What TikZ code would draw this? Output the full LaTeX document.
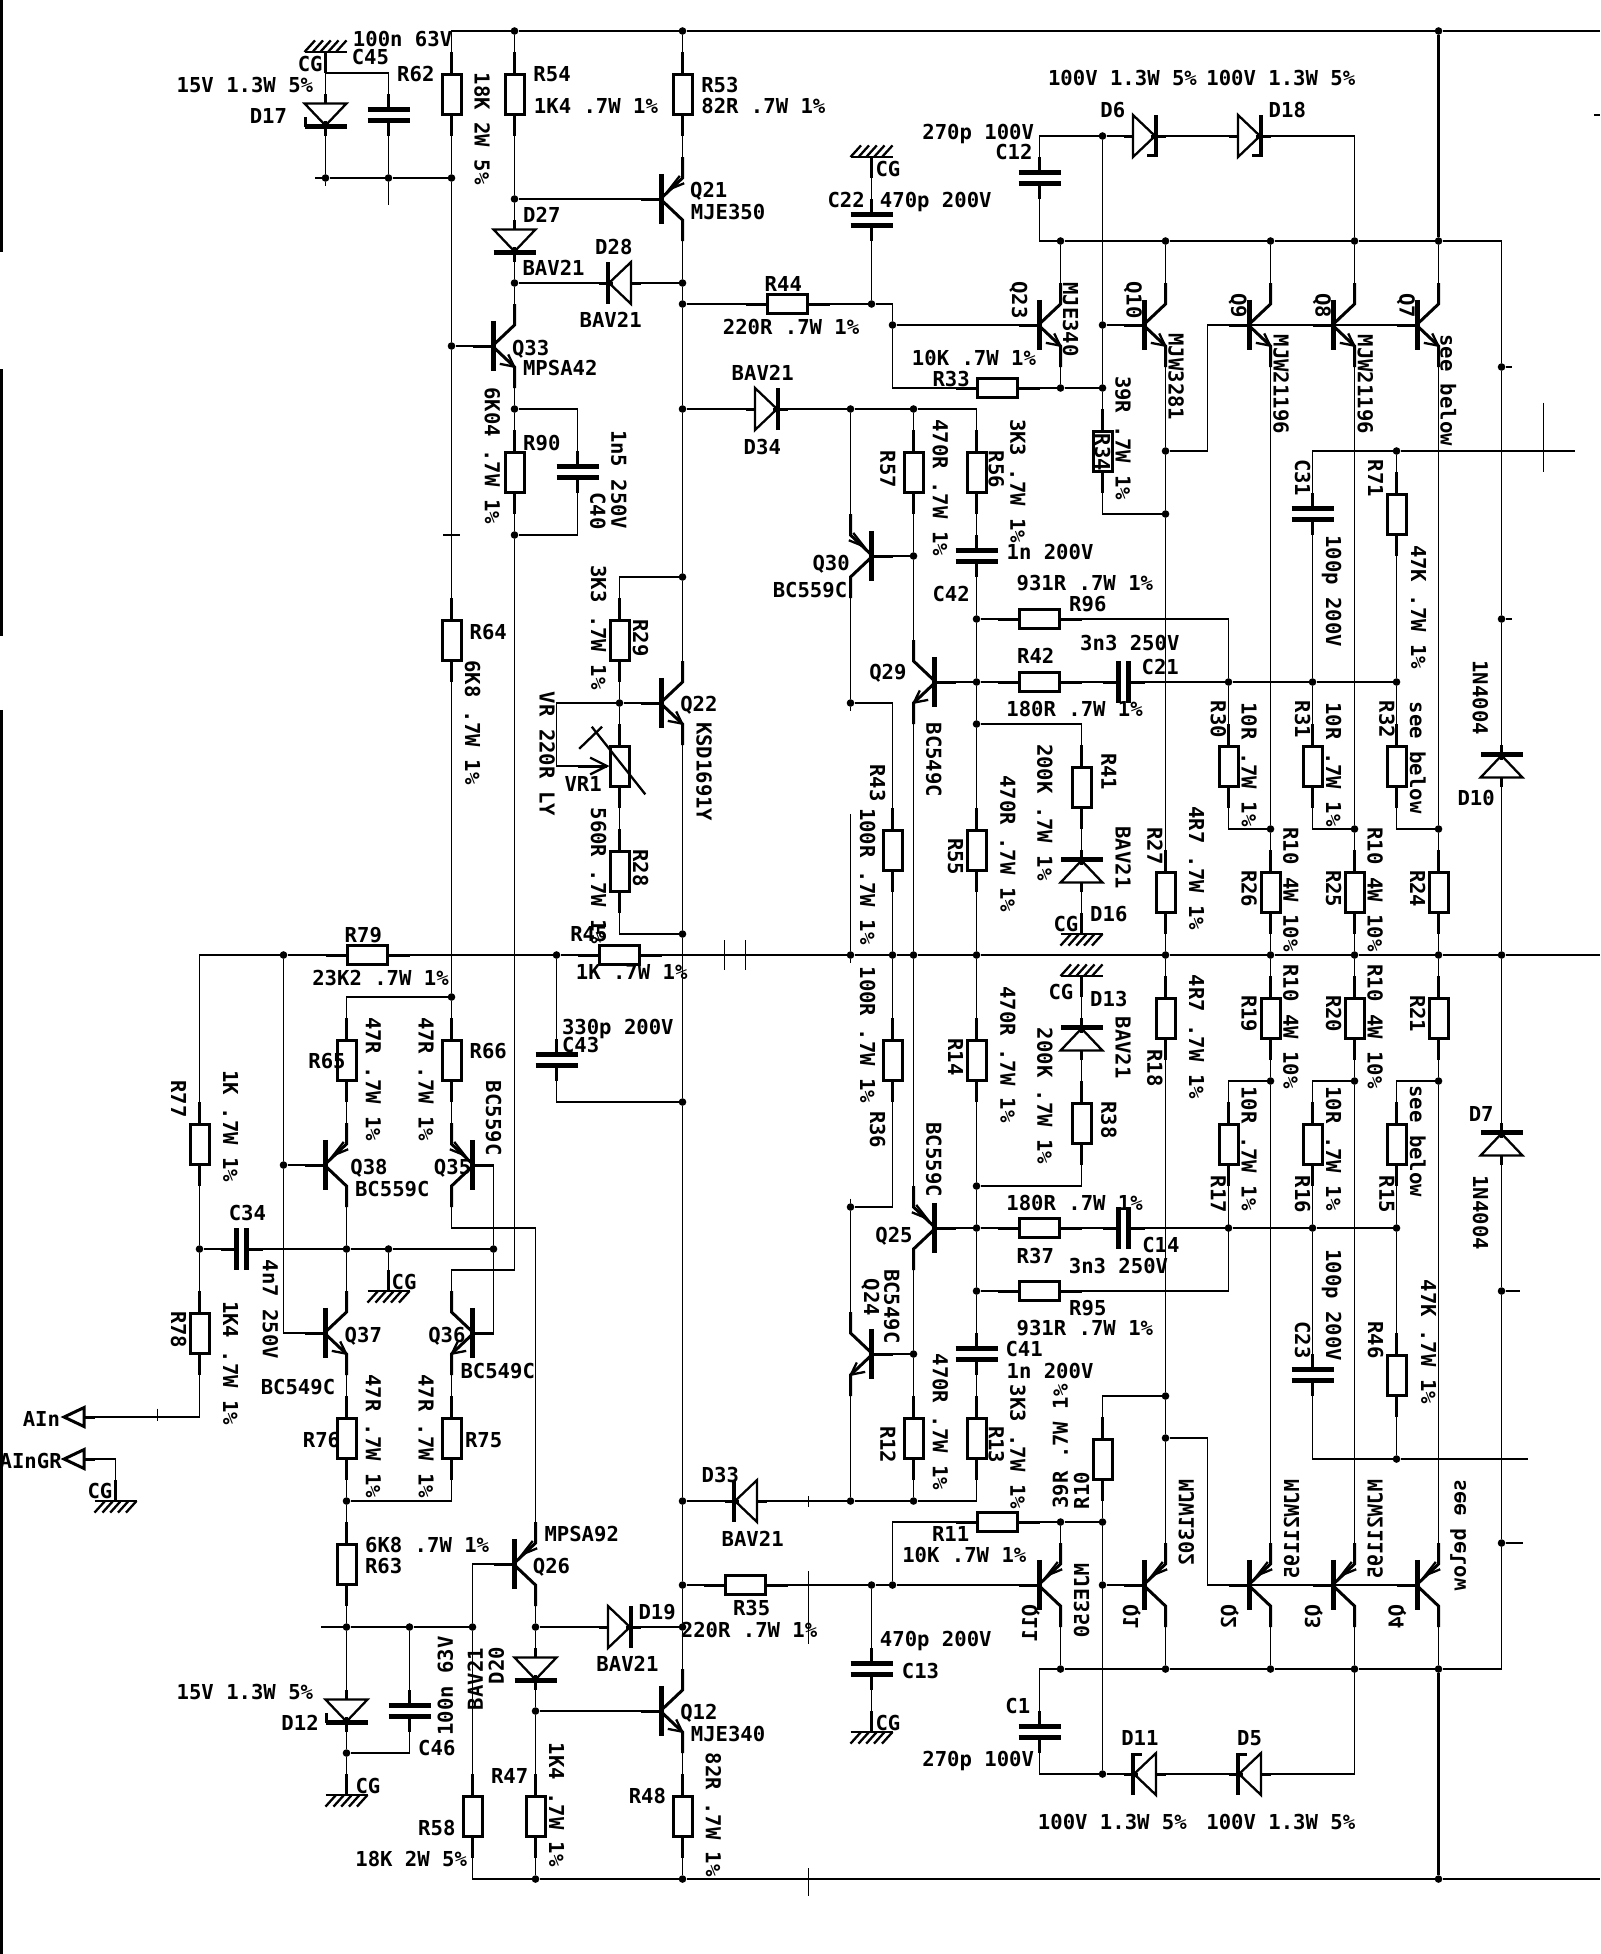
\documentclass[tikz,border=0pt]{standalone}
\usepackage{fontspec}
\newfontfamily\schfont[BoldFont={DejaVu Sans Mono Bold}]{DejaVu Sans Mono}
\newcounter{lblcount}
\tikzset{
  wire/.style={line width=1.2pt},
  rail/.style={line width=3pt},
  pin/.style={line width=3pt},
  bar/.style={line width=4.8pt},
  head/.style={line width=2.3pt},
  dot/.style={circle,fill=black,inner sep=0pt,minimum size=7.6pt},
  resbox/.style={rectangle,draw=black,line width=3pt,inner sep=0pt},
  pinbox/.style={rectangle,inner sep=0pt,outer sep=0pt,minimum width=42pt,minimum height=42pt},
  lbl/.style={font=\schfont\bfseries\fontsize{20.6}{21}\selectfont,inner sep=0pt,text height=15pt,text depth=0pt}
}
% resistors, the node is the body
\newcommand{\resV}[3]{%
  \node[resbox,minimum width=19pt,minimum height=40pt] (#1) at (#2,#3) {};
  \draw[pin] (#2,#3-2) -- (#2,#3-1) (#2,#3+1) -- (#2,#3+2);
  \coordinate (#1t) at (#2,#3-2);
  \coordinate (#1u) at (#2,#3+2);
}
\newcommand{\resH}[3]{%
  \node[resbox,minimum width=40pt,minimum height=19pt] (#1) at (#2,#3) {};
  \draw[pin] (#2-2,#3) -- (#2-1,#3) (#2+1,#3) -- (#2+2,#3);
  \coordinate (#1t) at (#2-2,#3);
  \coordinate (#1u) at (#2+2,#3);
}
% capacitors
\newcommand{\capV}[3]{%
  \node[pinbox] (#1) at (#2,#3) {};
  \draw[bar] (#2-1,#3-.25) -- (#2+1,#3-.25) (#2-1,#3+.25) -- (#2+1,#3+.25);
  \draw[pin] (#2,#3-1) -- (#2,#3-.25) (#2,#3+.25) -- (#2,#3+1);
}
\newcommand{\capH}[3]{%
  \node[pinbox] (#1) at (#2,#3) {};
  \draw[bar] (#2-.25,#3-1) -- (#2-.25,#3+1) (#2+.25,#3-1) -- (#2+.25,#3+1);
  \draw[pin] (#2-1,#3) -- (#2-.25,#3) (#2+.25,#3) -- (#2+1,#3);
}
% diodes: rotation 0 points down, 90 right, 180 up, 270 left
\newcommand{\diode}[4]{%
  \node[pinbox,minimum width=1pt,rotate=#4] (#1) at (#2,#3) {};
  \begin{scope}[shift={(#2,#3)},x=21pt,y=21pt,rotate=#4]
    \draw[head] (-1,.55) -- (1,.55) -- (0,-.5) -- cycle;
    \draw[bar] (-1,-.55) -- (1,-.55);
    \draw[pin] (0,1) -- (0,.55) (0,-.3) -- (0,-1);
  \end{scope}
}
\newcommand{\zener}[4]{%
  \diode{#1}{#2}{#3}{#4}
  \begin{scope}[shift={(#2,#3)},x=21pt,y=21pt,rotate=#4]
    \draw[pin] (-.95,-.55) -- (-.95,-.1);
  \end{scope}
}
% transistors: wire x, base y, 1 base left or -1 base right, 0 arrow in on top or 1 arrow out below
\newcommand{\bjt}[5]{%
  \begin{scope}[shift={(#2,#3)},xscale=#4]
    \coordinate (#1-b) at (-2,0);
    \coordinate (#1-t) at (0,-2);
    \coordinate (#1-u) at (0,2);
    \draw[pin] (-2,0) -- (-1,0);
    \draw[bar] (-1,-1.2) -- (-1,1.2);
    \draw[pin] (0,-2) -- (0,-1) -- (-.95,-.1);
    \draw[pin] (-.95,.1) -- (0,1) -- (0,2);
    \ifnum#5=0
      \draw[head] (.08,-.75) -- (-.63,-.46) -- (-.13,-1.1);
    \else
      \draw[head] (-.7,.85) -- (-.02,.98) -- (-.3,.4);
    \fi
  \end{scope}
}
% ground, the coordinate is the free end of its pin
\newcommand{\gnd}[4]{%
  \coordinate (#1) at (#2,#3+#4);
  \begin{scope}[shift={(#2,#3)},x=21pt,y=21pt,rotate=90+90*#4]
    \draw[pin] (0,0) -- (0,1);
    \draw[head] (-1,0) -- (1,0);
    \foreach \t in {-.5,-.12,.25,.62,1} {
      \draw[head] (\t,0) -- ++(-.5,-.55);
    }
  \end{scope}
}
\newcommand{\inport}[2]{%
  \coordinate (#1) at (-5,#2);
  \draw[pin] (-6.45,#2) -- (-5.5,#2-.45) -- (-5.5,#2+.45) -- cycle;
  \draw[pin] (-5.5,#2) -- (-5,#2);
}
% labels
\newcommand{\lab}[3]{\stepcounter{lblcount}\node[lbl] (lb\arabic{lblcount}) at (#1,#2) {#3};}
\newcommand{\labd}[3]{\stepcounter{lblcount}\node[lbl,rotate=-90] (lb\arabic{lblcount}) at (#1,#2) {#3};}
\newcommand{\labu}[3]{\stepcounter{lblcount}\node[lbl,rotate=90] (lb\arabic{lblcount}) at (#1,#2) {#3};}
\newcommand{\labm}[3]{\stepcounter{lblcount}\node[lbl,rotate=90,xscale=-1] (lb\arabic{lblcount}) at (#1,#2) {#3};}
\newcommand{\pw}{.7W 1\%}
\begin{document}
\begin{tikzpicture}[x=21pt,y=-21pt]
    \useasboundingbox (-9.5,-1.476) rectangle (66.69,91.57);

    % Free ends and corners
    \coordinate (railT) at (66.69,0);
    \coordinate (railM) at (66.69,44);
    \coordinate (railB) at (66.69,88);
    \coordinate (cC62) at (62,10);
    \coordinate (cD62) at (62,78);
    \coordinate (cB36) at (15,59);
    \coordinate (cQ26) at (16,57);
    \coordinate (cQ9) at (48,20);
    \coordinate (cQ2) at (48,67);
    \coordinate (cVR) at (17,32);
    \coordinate (cWip) at (19.4,35);
    \coordinate (fb20) at (65.5,20);
    \coordinate (fb68) at (63.27,68);
    \coordinate (end76) at (5.8,76);
    \coordinate (end7) at (5.5,7);

    % Junctions
    \foreach \jx/\jy in {15/0,23/0,59/0,43/5,6/7,9/7,12/7,15/8,41/10,46/10,51/10,55/10,59/10,
        15/12,23/12,23/13,32/13,33/14,43/14,12/15,41/17,43/17,15/18,23/18,31/18,34/18,
        46/20,57/20,46/23,15/24,34/25,23/26,37/28,62/16,62/28,37/31,49/31,53/31,57/31,
        20/32,31/32,37/33,51/38,55/38,59/38,23/43,4/44,17/44,31/44,33/44,34/44,37/44,46/44,
        51/44,55/44,59/44,62/44,12/46,51/50,55/50,59/50,23/51,4/54,37/55,31/56,37/57,49/57,
        53/57,57/57,0/58,7/58,9/58,14/58,37/60,62/60,34/63,46/65,46/67,57/68,7/70,23/70,
        31/70,34/70,41/71,43/71,62/72,23/74,32/74,33/74,43/74,7/76,10/76,13/76,16/76,23/76,
        41/78,46/78,51/78,55/78,59/78,16/80,7/82,43/83,16/88,23/88,59/88} {
        \node[dot] (j\jx-\jy) at (\jx,\jy) {};
    }

    % Resistors
    \foreach \rn/\rx/\ry in {R62/12/3,R54/15/3,R53/23/3,R90/15/21,R64/12/29,R29/20/29,R28/20/40,
        R34/43/20,R71/57/23,R57/34/21,R56/37/21,R30/49/35,R31/53/35,R32/57/35,R41/42/36,
        R43/33/39,R55/37/39,R27/46/41,R26/51/41,R25/55/41,R24/59/41,R36/33/49,R14/37/49,
        R18/46/47,R19/51/47,R20/55/47,R21/59/47,R38/42/52,R17/49/53,R16/53/53,R15/57/53,
        R46/57/64,R12/34/67,R13/37/67,R10/43/68,R65/7/49,R66/12/49,R77/0/53,R78/0/62,
        R76/7/67,R75/12/67,R63/7/73,R58/13/85,R47/16/85,R48/23/85,VR1/20/35} {
        \resV{\rn}{\rx}{\ry}
    }
    \foreach \rn/\rx/\ry in {R44/28/13,R33/38/17,R96/40/28,R42/40/31,R79/8/44,R45/20/44,
        R37/40/57,R95/40/60,R11/38/71,R35/26/74} {
        \resH{\rn}{\rx}{\ry}
    }

    % Variable resistor marks
    \draw[head] (21.23,36.35) -- (18.68,33.13);
    \draw[head] (18.08,34.18) -- (19.17,33.13);
    \draw[pin] (18,35) -- (cWip);
    \draw[head] (18.6,34.6) -- (cWip) -- (18.6,35.4);

    % Capacitors
    \foreach \cn/\cx/\cy in {C45/9/4,C40/18/21,C22/32/9,C12/40/7,C31/53/23,C42/37/25,C43/17/49,
        C41/37/63,C23/53/64,C46/10/80,C13/32/78,C1/40/81} {
        \capV{\cn}{\cx}{\cy}
    }
    \foreach \cn/\cx/\cy in {C21/44/31,C14/44/57,C34/2/58} {
        \capH{\cn}{\cx}{\cy}
    }

    % Diodes
    \diode{D27}{15}{10}{0}
    \diode{D20}{16}{78}{0}
    \diode{D28}{20}{12}{270}
    \diode{D33}{26}{70}{270}
    \diode{D34}{27}{18}{90}
    \diode{D19}{20}{76}{90}
    \diode{D16}{42}{40}{180}
    \diode{D13}{42}{48}{180}
    \diode{D10}{62}{35}{180}
    \diode{D7}{62}{53}{180}
    \zener{D17}{6}{4}{0}
    \zener{D12}{7}{80}{0}
    \zener{D6}{45}{5}{90}
    \zener{D18}{50}{5}{90}
    \zener{D11}{45}{83}{270}
    \zener{D5}{50}{83}{270}

    % Transistors
    \foreach \qn/\qx/\qy/\qs/\qa in {Q21/23/8/1/0,Q33/15/15/1/1,Q22/23/32/1/1,Q12/23/80/1/1,
        Q26/16/73/1/0,Q38/7/54/1/0,Q35/12/54/-1/0,Q37/7/62/1/1,Q36/12/62/-1/1,Q23/41/14/1/1,
        Q10/46/14/1/1,Q9/51/14/1/1,Q8/55/14/1/1,Q7/59/14/1/1,Q30/31/25/-1/0,Q29/34/31/-1/1,
        Q25/34/57/-1/0,Q24/31/63/-1/1,Q11/41/74/1/0,Q1/46/74/1/0,Q2/51/74/1/0,Q3/55/74/1/0,
        Q4/59/74/1/0} {
        \bjt{\qn}{\qx}{\qy}{\qs}{\qa}
    }

    % Grounds
    \gnd{gD17}{6}{1}{1}
    \gnd{gC22}{32}{6}{1}
    \gnd{gD16}{42}{43}{-1}
    \gnd{gD13}{42}{45}{1}
    \gnd{gC34}{9}{60}{-1}
    \gnd{gD12}{7}{84}{-1}
    \gnd{gC13}{32}{81}{-1}
    \gnd{gIn}{-4}{70}{-1}

    % Inputs
    \inport{aIn}{66}
    \inport{aGr}{68}

    % Supply rails
    \draw[wire] (R62t) |- (j15-0) -- (j23-0) -- (j59-0) -- (railT);
    \draw[wire] (R58u) |- (j16-88) -- (j23-88) -- (j59-88) -- (railB);
    \draw[rail] (j59-0) -- (j59-10);
    \draw[rail] (j59-78) -- (j59-88);
    \draw[wire] (j15-0) -- (R54t);
    \draw[wire] (j23-0) -- (R53t);

    % Upper left part
    \draw[wire] (R62u) -- (j12-7) -- (j12-15) -- (R64t);
    \draw[wire] (R64u) -- (j12-46) -- (R66t);
    \draw[wire] (gD17) -- (D17.north);
    \draw[wire] (gD17) -| (C45.north);
    \draw[wire] (D17.south) -- (j6-7);
    \draw[wire] (C45.south) -- (j9-7);
    \draw[wire] (end7) -- (j6-7) -- (j9-7) -- (j12-7);
    \draw[wire] (R54u) -- (j15-8) -- (D27.north);
    \draw[wire] (j15-8) -- (Q21-b);
    \draw[wire] (D27.south) -- (j15-12) -- (Q33-t);
    \draw[wire] (j15-12) -- (D28.south);
    \draw[wire] (D28.north) -- (j23-12);
    \draw[wire] (R53u) -- (Q21-t);
    \draw[wire] (Q21-u) -- (j23-12) -- (j23-13) -- (j23-18) -- (j23-26) -- (Q22-t);
    \draw[wire] (Q22-u) -- (j23-43) -- (j23-51) -- (j23-70) -- (j23-74) -- (j23-76) -- (Q12-t);
    \draw[wire] (Q12-u) -- (R48t);
    \draw[wire] (R48u) -- (j23-88);
    \draw[wire] (j12-15) -- (Q33-b);
    \draw[wire] (Q33-u) -- (j15-18) -- (R90t);
    \draw[wire] (R90u) -- (j15-24);
    \draw[wire] (j15-18) -| (C40.north);
    \draw[wire] (C40.south) |- (j15-24);
    \draw[wire] (j15-24) -- (cB36) -| (Q36-t);

    % Driver stage, top
    \draw[wire] (j23-13) -- (R44t);
    \draw[wire] (R44u) -- (j32-13) -| (j33-14);
    \draw[wire] (gC22) -- (C22.north);
    \draw[wire] (C22.south) -- (j32-13);
    \draw[wire] (j33-14) -- (Q23-b);
    \draw[wire] (j33-14) |- (R33t);
    \draw[wire] (R33u) -- (j41-17) -- (j43-17);
    \draw[wire] (j41-10) -- (Q23-t);
    \draw[wire] (Q23-u) -- (j41-17);
    \draw[wire] (j23-18) -- (D34.north);
    \draw[wire] (D34.south) -- (j31-18) -- (j34-18) -| (R56t);
    \draw[wire] (C12.north) |- (j43-5);
    \draw[wire] (j43-5) -- (D6.north);
    \draw[wire] (D6.south) -- (D18.north);
    \draw[wire] (D18.south) -| (j55-10);
    \draw[wire] (C12.south) |- (j41-10);
    \draw[wire] (j41-10) -- (j46-10) -- (j51-10) -- (j55-10) -- (j59-10) -- (cC62) -- (j62-16) -- (j62-28) -- (D10.south);
    \draw[wire] (D10.north) -- (j62-44) -- (D7.south);
    \draw[wire] (D7.north) -- (j62-60) -- (j62-72) -- (cD62) -- (j59-78) -- (j55-78) -- (j51-78) -- (j46-78) -- (j41-78) -| (C1.north);
    \draw[wire] (j43-5) -- (j43-14) -- (j43-17) -- (R34t);
    \draw[wire] (R34u) |- (j46-23);
    \draw[wire] (j43-14) -- (Q10-b);

    % Output columns
    \draw[wire] (j46-10) -- (Q10-t);
    \draw[wire] (Q10-u) -- (j46-20) -- (j46-23) -- (R27t);
    \draw[wire] (R27u) -- (j46-44) -- (R18t);
    \draw[wire] (R18u) -- (j46-65) -- (j46-67) -- (Q1-t);
    \draw[wire] (Q1-u) -- (j46-78);
    \draw[wire] (j46-20) -- (cQ9) |- (Q9-b);
    \draw[wire] (Q9-b) -- (Q7-b);
    \draw[wire] (j51-10) -- (Q9-t);
    \draw[wire] (Q9-u) -- (j51-38) -- (R26t);
    \draw[wire] (R26u) -- (j51-44) -- (R19t);
    \draw[wire] (R19u) -- (j51-50) -- (Q2-t);
    \draw[wire] (Q2-u) -- (j51-78);
    \draw[wire] (j55-10) -- (Q8-t);
    \draw[wire] (Q8-u) -- (j55-38) -- (R25t);
    \draw[wire] (R25u) -- (j55-44) -- (R20t);
    \draw[wire] (R20u) -- (j55-50) -- (Q3-t);
    \draw[wire] (Q3-u) -- (j55-78);
    \draw[wire] (j59-10) -- (Q7-t);
    \draw[wire] (Q7-u) -- (j59-38) -- (R24t);
    \draw[wire] (R24u) -- (j59-44) -- (R21t);
    \draw[wire] (R21u) -- (j59-50) -- (Q4-t);
    \draw[wire] (Q4-u) -- (j59-78);

    % Main horizontal line
    \draw[wire] (R77t) |- (j4-44);
    \draw[wire] (j4-44) -- (R79t);
    \draw[wire] (R79u) -- (j17-44) -- (R45t);
    \draw[wire] (R45u) -- (j31-44) -- (j33-44) -- (j34-44) -- (j37-44) -- (j46-44) -- (j51-44) -- (j55-44) -- (j59-44) -- (j62-44) -- (railM);

    % Feedback network, top
    \draw[wire] (C31.north) |- (j57-20);
    \draw[wire] (j57-20) -- (fb20);
    \draw[wire] (R71t) -- (j57-20);
    \draw[wire] (C31.south) -- (j53-31);
    \draw[wire] (R71u) -- (j57-31);
    \draw[wire] (Q29-b) -- (j37-31) -- (R42t);
    \draw[wire] (R42u) -- (C21.west);
    \draw[wire] (C21.east) -- (j49-31) -- (j53-31) -- (j57-31);
    \draw[wire] (j37-28) -- (R96t);
    \draw[wire] (R96u) -| (j49-31);
    \draw[wire] (j49-31) -- (R30t);
    \draw[wire] (R30u) |- (j51-38);
    \draw[wire] (j53-31) -- (R31t);
    \draw[wire] (R31u) |- (j55-38);
    \draw[wire] (j57-31) -- (R32t);
    \draw[wire] (R32u) |- (j59-38);
    \draw[wire] (R56u) -- (C42.north);
    \draw[wire] (C42.south) -- (j37-28) -- (j37-31) -- (j37-33) -- (R55t);
    \draw[wire] (R55u) -- (j37-44) -- (R14t);
    \draw[wire] (R14u) -- (j37-55) -- (j37-57) -- (j37-60) -- (C41.north);
    \draw[wire] (C41.south) -- (R13t);
    \draw[wire] (R13u) |- (j34-70);
    \draw[wire] (j37-33) -| (R41t);
    \draw[wire] (R41u) -- (D16.south);
    \draw[wire] (D16.north) -- (gD16);
    \draw[wire] (gD13) -- (D13.south);
    \draw[wire] (D13.north) -- (R38t);
    \draw[wire] (R38u) |- (j37-55);

    % Voltage amplifier columns
    \draw[wire] (j31-18) -- (Q30-t);
    \draw[wire] (Q30-u) -- (j31-32) -- (31,32.4);
    \draw[wire] (j31-32) -| (R43t);
    \draw[wire] (R43u) -- (j33-44);
    \draw[wire] (j33-44) -- (R36t);
    \draw[wire] (R36u) |- (j31-56);
    \draw[wire] (31,37.3) -- (j31-44) -- (31,44.4);
    \draw[wire] (31,55.6) -- (j31-56) -- (Q24-t);
    \draw[wire] (Q24-u) -- (j31-70);
    \draw[wire] (Q30-b) -- (j34-25);
    \draw[wire] (j34-18) -- (R57t);
    \draw[wire] (R57u) -- (j34-25) -- (Q29-t);
    \draw[wire] (Q29-u) -- (j34-44) -- (Q25-t);
    \draw[wire] (Q25-u) -- (j34-63) -- (R12t);
    \draw[wire] (R12u) -- (j34-70);
    \draw[wire] (Q24-b) -- (j34-63);

    % Feedback network, bottom
    \draw[wire] (Q25-b) -- (j37-57) -- (R37t);
    \draw[wire] (R37u) -- (C14.west);
    \draw[wire] (C14.east) -- (j49-57) -- (j53-57) -- (j57-57);
    \draw[wire] (j37-60) -- (R95t);
    \draw[wire] (R95u) -| (R17u);
    \draw[wire] (R17t) |- (j51-50);
    \draw[wire] (R16t) |- (j55-50);
    \draw[wire] (R15t) |- (j59-50);
    \draw[wire] (R16u) -- (j53-57) -- (C23.north);
    \draw[wire] (R15u) -- (j57-57) -- (R46t);
    \draw[wire] (C23.south) |- (j57-68);
    \draw[wire] (R46u) -- (j57-68) -- (fb68);

    % Driver stage, bottom
    \draw[wire] (j23-70) -- (D33.south);
    \draw[wire] (D33.north) -- (j31-70) -- (j34-70);
    \draw[wire] (j23-74) -- (R35t);
    \draw[wire] (R35u) -- (j32-74) -- (j33-74) -- (Q11-b);
    \draw[wire] (j33-74) |- (R11t);
    \draw[wire] (R11u) -- (j41-71) -- (j43-71);
    \draw[wire] (j41-71) -- (Q11-t);
    \draw[wire] (Q11-u) -- (j41-78);
    \draw[wire] (j32-74) -- (C13.north);
    \draw[wire] (C13.south) -- (gC13);
    \draw[wire] (j46-65) -| (R10t);
    \draw[wire] (R10u) -- (j43-71) -- (j43-74) -- (j43-83);
    \draw[wire] (j43-74) -- (Q1-b);
    \draw[wire] (j46-67) -- (cQ2) |- (Q2-b);
    \draw[wire] (Q2-b) -- (Q4-b);
    \draw[wire] (C1.south) |- (j43-83);
    \draw[wire] (j43-83) -- (D11.south);
    \draw[wire] (D11.north) -- (D5.south);
    \draw[wire] (D5.north) -| (j55-78);

    % Bias string
    \draw[wire] (R29t) |- (j23-26);
    \draw[wire] (R29u) -- (j20-32) -- (VR1t);
    \draw[wire] (j20-32) -- (Q22-b);
    \draw[wire] (VR1u) -- (R28t);
    \draw[wire] (R28u) |- (j23-43);
    \draw[wire] (j20-32) -- (cVR) |- (cWip);
    \draw[wire] (j17-44) -- (C43.north);
    \draw[wire] (C43.south) |- (j23-51);

    % Input stage
    \draw[wire] (R77u) -- (j0-58) -- (R78t);
    \draw[wire] (R78u) |- (aIn);
    \draw[wire] (aGr) -| (gIn);
    \draw[wire] (j0-58) -- (C34.west);
    \draw[wire] (C34.east) -- (j7-58) -- (j9-58) -- (j14-58);
    \draw[wire] (j9-58) -- (gC34);
    \draw[wire] (j4-44) -- (j4-54) -- (Q38-b);
    \draw[wire] (j4-54) |- (Q37-b);
    \draw[wire] (R65t) |- (j12-46);
    \draw[wire] (R65u) -- (Q38-t);
    \draw[wire] (Q38-u) -- (j7-58) -- (Q37-t);
    \draw[wire] (Q37-u) -- (R76t);
    \draw[wire] (R76u) -- (j7-70) -- (R63t);
    \draw[wire] (R63u) -- (j7-76) -- (D12.north);
    \draw[wire] (D12.south) -- (j7-82) -- (gD12);
    \draw[wire] (R66u) -- (Q35-t);
    \draw[wire] (Q35-u) |- (cQ26) -- (Q26-t);
    \draw[wire] (Q35-b) -- (j14-58) -- (Q36-b);
    \draw[wire] (Q36-u) -- (R75t);
    \draw[wire] (R75u) |- (j7-70);
    \draw[wire] (Q26-u) -- (j16-76) -- (D20.north);
    \draw[wire] (D20.south) -- (j16-80) -- (R47t);
    \draw[wire] (j16-80) -- (Q12-b);
    \draw[wire] (j16-76) -- (D19.north);
    \draw[wire] (D19.south) -- (j23-76);
    \draw[wire] (Q26-b) -| (j13-76);
    \draw[wire] (j13-76) -- (R58t);
    \draw[wire] (end76) -- (j7-76) -- (j10-76) -- (j13-76);
    \draw[wire] (j10-76) -- (C46.north);
    \draw[wire] (C46.south) |- (j7-82);
    \draw[wire] (R47u) -- (j16-88);

    % Stray marks
    \draw[wire] (j6-7) -- (6,7.4);
    \draw[wire] (j9-7) -- (9,8.3);
    \draw[wire] (11.6,24) -- (12.4,24);
    \draw[wire] (25,43.3) -- (25,44.7);
    \draw[wire] (26,43.3) -- (26,44.7);
    \draw[wire] (-2,65.6) -- (-2,66.2);
    \draw[wire] (29,69.76) -- (29,70.3);
    \draw[wire] (29,73.34) -- (29,76.8);
    \draw[wire] (29,87.48) -- (29,88.79);
    \draw[wire] (64,17.7) -- (64,21);
    \draw[wire] (j62-16) -- (62.5,16);
    \draw[wire] (j62-28) -- (62.5,28);
    \draw[wire] (j62-60) -- (62.9,60);
    \draw[wire] (j62-72) -- (63,72);
    \draw[wire] (66.4,4) -- (66.69,4);
    \draw[rail] (-9.43,-1.476) -- (-9.43,10.52);
    \draw[rail] (-9.43,16.1) -- (-9.43,28.8);
    \draw[rail] (-9.43,32.33) -- (-9.43,91.57);

    % Labels, upper left
    \lab{9.67}{.4}{100n 63V}
    \lab{8.14}{1.25}{C45}
    \lab{5.27}{1.55}{CG}
    \lab{2.16}{2.58}{15V 1.3W 5\%}
    \lab{3.28}{4.06}{D17}
    \lab{10.3}{2.04}{R62}
    \labd{13.46}{4.65}{18K 2W 5\%}
    \lab{16.79}{2.04}{R54}
    \lab{18.88}{3.56}{1K4 \pw}
    \lab{24.78}{2.55}{R53}
    \lab{26.85}{3.56}{82R \pw}
    \lab{24.25}{7.57}{Q21}
    \lab{25.17}{8.6}{MJE350}
    \lab{16.3}{8.76}{D27}
    \lab{19.73}{10.28}{D28}
    \lab{16.86}{11.27}{BAV21}
    \lab{19.58}{13.78}{BAV21}
    \lab{15.77}{15.08}{Q33}
    \lab{17.18}{16.07}{MPSA42}
    \labd{13.95}{20.22}{6K04 \pw}
    \lab{16.3}{19.6}{R90}
    \labd{19.97}{21.37}{1n5 250V}
    \labd{18.97}{22.85}{C40}
    \lab{27.8}{12.06}{R44}
    \lab{28.17}{14.1}{220R \pw}
    \lab{26.82}{16.27}{BAV21}
    \lab{26.8}{19.79}{D34}
    \lab{13.75}{28.6}{R64}
    \labd{19}{28.4}{3K3 \pw}
    \labd{21}{28.9}{R29}
    \labd{13}{32.93}{6K8 \pw}
    \labd{16.55}{34.42}{VR 220R LY}
    \lab{18.27}{35.84}{VR1}
    \labd{24.03}{35.27}{KSD1691Y}
    \lab{23.78}{32.05}{Q22}
    \labd{19}{40.23}{560R \pw}
    \labd{21}{39.85}{R28}
    \lab{7.8}{43.07}{R79}
    \lab{8.62}{45.09}{23K2 \pw}
    \lab{18.54}{43.01}{R45}
    \lab{20.58}{44.79}{1K \pw}
    \lab{19.92}{47.42}{330p 200V}
    \lab{18.15}{48.29}{C43}

    % Labels, input stage
    \lab{6.07}{49.04}{R65}
    \labd{8.28}{49.91}{47R \pw}
    \labd{10.79}{49.91}{47R \pw}
    \lab{13.75}{48.59}{R66}
    \labd{14}{51.77}{BC559C}
    \labd{1.48}{52.16}{1K \pw}
    \labd{-1}{50.86}{R77}
    \lab{8.07}{54.08}{Q38}
    \lab{9.18}{55.13}{BC559C}
    \lab{12.05}{54.08}{Q35}
    \lab{2.28}{56.3}{C34}
    \labd{3.38}{60.87}{4n7 250V}
    \lab{9.74}{59.57}{CG}
    \labd{1.48}{63.43}{1K4 \pw}
    \labd{-1}{61.84}{R78}
    \lab{7.8}{62.08}{Q37}
    \lab{11.78}{62.08}{Q36}
    \lab{4.69}{64.56}{BC549C}
    \lab{14.2}{63.81}{BC549C}
    \labd{8.28}{66.92}{47R \pw}
    \labd{10.79}{66.92}{47R \pw}
    \lab{5.81}{67.08}{R76}
    \lab{13.53}{67.08}{R75}
    \lab{-7.53}{66.09}{AIn}
    \lab{-8.04}{68.08}{AInGR}
    \lab{-4.74}{69.53}{CG}

    % Labels, lower left
    \lab{10.84}{72.09}{6K8 \pw}
    \lab{8.77}{73.08}{R63}
    \lab{18.2}{71.55}{MPSA92}
    \lab{16.76}{73.08}{Q26}
    \lab{21.79}{75.27}{D19}
    \lab{20.38}{77.77}{BAV21}
    \lab{26.29}{75.07}{R35}
    \lab{26.17}{76.12}{220R \pw}
    \lab{24.8}{68.77}{D33}
    \lab{26.34}{71.79}{BAV21}
    \lab{2.16}{79.1}{15V 1.3W 5\%}
    \lab{4.79}{80.59}{D12}
    \labu{11.71}{78.8}{100n 63V}
    \labu{13.14}{78.48}{BAV21}
    \labu{14.14}{77.83}{D20}
    \lab{11.3}{81.78}{C46}
    \lab{8.02}{83.57}{CG}
    \lab{14.77}{83.07}{R47}
    \labd{17}{84.46}{1K4 \pw}
    \lab{23.78}{80.05}{Q12}
    \lab{25.17}{81.09}{MJE340}
    \lab{21.33}{84.06}{R48}
    \labd{24.47}{84.94}{82R \pw}
    \lab{11.3}{85.55}{R58}
    \lab{10.08}{87.06}{18K 2W 5\%}

    % Labels, upper right
    \lab{43.95}{2.24}{100V 1.3W 5\%}
    \lab{51.49}{2.24}{100V 1.3W 5\%}
    \lab{43.49}{3.76}{D6}
    \lab{51.8}{3.76}{D18}
    \lab{37.08}{4.81}{270p 100V}
    \lab{38.78}{5.78}{C12}
    \lab{32.78}{6.57}{CG}
    \lab{30.79}{8.07}{C22}
    \lab{35.06}{8.07}{470p 200V}
    \labd{39.05}{12.81}{Q23}
    \labd{41.48}{13.74}{MJE340}
    \labd{44.51}{12.81}{Q10}
    \labd{46.51}{16.47}{MJW3281}
    \labd{49.49}{13.09}{Q9}
    \labd{51.51}{16.82}{MJW21196}
    \labd{53.5}{13.09}{Q8}
    \labd{55.52}{16.82}{MJW21196}
    \labd{57.51}{13.09}{Q7}
    \labd{59.46}{17.1}{see below}
    \lab{36.88}{15.56}{10K \pw}
    \lab{35.79}{16.55}{R33}
    \labd{43.98}{19.39}{39R \pw}
    \labd{43}{20.07}{R34}
    \labd{35.28}{21.75}{470R \pw}
    \labd{32.78}{20.88}{R57}
    \labd{38.97}{21.43}{3K3 \pw}
    \labd{37.95}{20.88}{R56}
    \lab{40.5}{24.81}{1n 200V}
    \lab{35.79}{26.8}{C42}
    \lab{30.08}{25.34}{Q30}
    \lab{29.07}{26.6}{BC559C}
    \lab{42.16}{26.29}{931R \pw}
    \lab{42.3}{27.3}{R96}
    \labd{52.53}{21.27}{C31}
    \labd{54}{26.68}{100p 200V}
    \labd{56}{21.31}{R71}
    \labd{58.05}{27.43}{47K \pw}
    \lab{44.3}{29.15}{3n3 250V}

    % Labels, middle right above the main line
    \lab{39.82}{29.77}{R42}
    \lab{45.75}{30.27}{C21}
    \lab{32.78}{30.52}{Q29}
    \lab{41.67}{32.3}{180R \pw}
    \labd{34.97}{34.71}{BC549C}
    \labd{32.29}{35.8}{R43}
    \labd{31.81}{40.25}{100R \pw}
    \labd{40.26}{37.2}{200K \pw}
    \labd{43.3}{35.27}{R41}
    \labd{38.49}{38.7}{470R \pw}
    \labd{36}{39.32}{R55}
    \labd{43.98}{39.36}{BAV21}
    \lab{43.3}{42.07}{D16}
    \lab{41.26}{42.52}{CG}
    \labd{45.49}{38.8}{R27}
    \labd{47.48}{39.87}{4R7 \pw}
    \labd{48.52}{32.78}{R30}
    \labd{49.98}{34.93}{10R \pw}
    \labd{52.53}{32.78}{R31}
    \labd{54}{34.93}{10R \pw}
    \labd{56.54}{32.78}{R32}
    \labd{58}{34.6}{see below}
    \labd{60.99}{31.75}{1N4004}
    \lab{60.79}{36.53}{D10}
    \labd{51.97}{40.88}{R10 4W 10\%}
    \labd{55.98}{40.88}{R10 4W 10\%}
    \labd{49.98}{40.84}{R26}
    \labd{54}{40.84}{R25}
    \labd{58}{40.84}{R24}

    % Labels, middle right below the main line
    \labd{31.81}{47.8}{100R \pw}
    \labd{32.29}{52.32}{R36}
    \labd{38.49}{48.74}{470R \pw}
    \labd{36}{48.86}{R14}
    \lab{41.02}{45.78}{CG}
    \lab{43.3}{46.08}{D13}
    \labd{43.98}{48.41}{BAV21}
    \labd{40.26}{50.72}{200K \pw}
    \labd{43.3}{51.85}{R38}
    \labd{45.49}{49.38}{R18}
    \labd{47.48}{47.9}{4R7 \pw}
    \labd{51.97}{47.4}{R10 4W 10\%}
    \labd{55.98}{47.4}{R10 4W 10\%}
    \labd{49.98}{46.79}{R19}
    \labd{54}{46.79}{R20}
    \labd{58}{46.79}{R21}
    \labd{49.98}{53.21}{10R \pw}
    \labd{54}{53.21}{10R \pw}
    \labd{48.52}{55.39}{R17}
    \labd{52.53}{55.39}{R16}
    \labd{56.54}{55.39}{R15}
    \labd{58}{52.87}{see below}
    \lab{61.03}{51.57}{D7}
    \labd{61}{56.27}{1N4004}
    \labd{34.97}{53.75}{BC559C}
    \lab{33.07}{57.34}{Q25}
    \lab{41.67}{55.8}{180R \pw}
    \lab{39.8}{58.33}{R37}
    \lab{45.78}{57.8}{C14}
    \lab{43.76}{58.82}{3n3 250V}
    \labd{32.97}{60.73}{BC549C}
    \labd{32}{60.3}{Q24}
    \lab{42.16}{61.78}{931R \pw}
    \lab{42.3}{60.79}{R95}

    % Labels, lower right
    \lab{39.27}{62.77}{C41}
    \lab{40.5}{63.81}{1n 200V}
    \labd{35.28}{66.23}{470R \pw}
    \labd{32.78}{67.32}{R12}
    \labd{38.97}{67.42}{3K3 \pw}
    \labd{37.95}{67.32}{R13}
    \labu{40.99}{67.4}{39R \pw}
    \labu{42}{69.5}{R10}
    \labd{52.53}{62.34}{C23}
    \labd{54}{60.67}{100p 200V}
    \labd{56}{62.34}{R46}
    \labd{58.53}{62.42}{47K \pw}
    \lab{35.77}{71.59}{R11}
    \lab{36.42}{72.58}{10K \pw}
    \labm{46.99}{71.02}{MJW1302}
    \labm{52}{71.35}{MJW21195}
    \labm{55.98}{71.35}{MJW21195}
    \labm{59.94}{71.61}{see below}
    \labm{42}{74.75}{MJE350}
    \labm{39.53}{75.8}{Q11}
    \labm{44.34}{75.52}{Q1}
    \labm{49}{75.52}{Q2}
    \labm{53}{75.52}{Q3}
    \labm{56.98}{75.52}{Q4}
    \lab{35.06}{76.56}{470p 200V}
    \lab{34.33}{78.07}{C13}
    \lab{32.78}{80.59}{CG}
    \lab{38.97}{79.75}{C1}
    \lab{37.08}{82.28}{270p 100V}
    \lab{44.78}{81.28}{D11}
    \lab{50}{81.28}{D5}
    \lab{43.47}{85.26}{100V 1.3W 5\%}
    \lab{51.49}{85.26}{100V 1.3W 5\%}
\end{tikzpicture}
\end{document}
